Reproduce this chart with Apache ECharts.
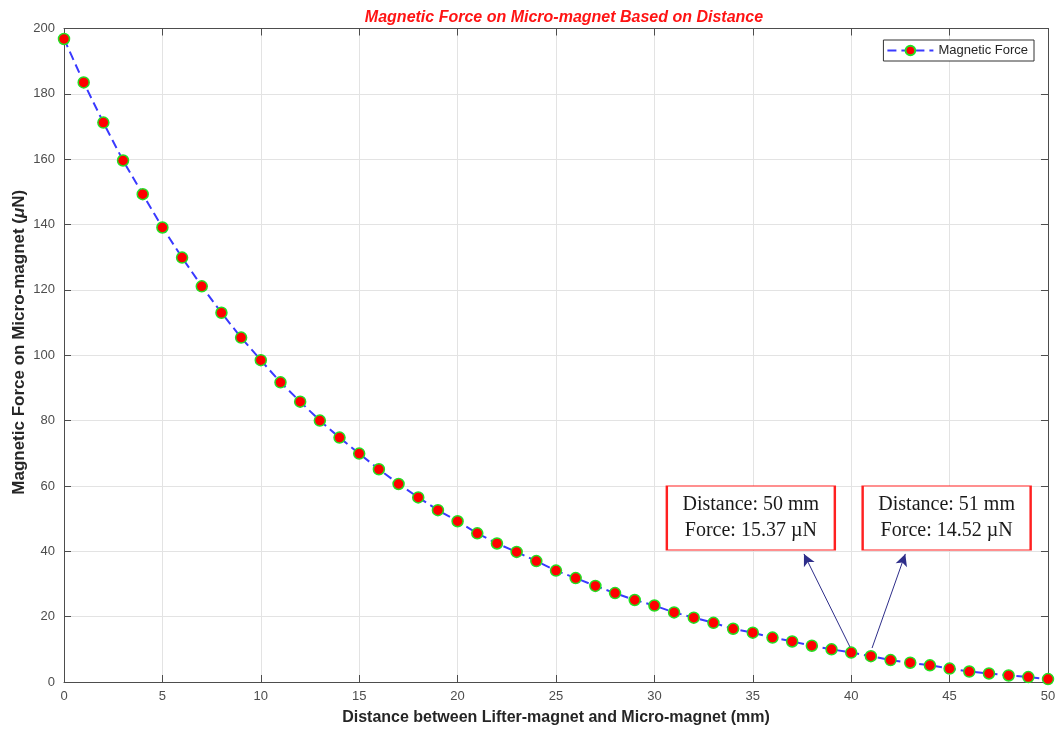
<!DOCTYPE html>
<html>
<head>
<meta charset="utf-8">
<title>Magnetic Force on Micro-magnet Based on Distance</title>
<script src="https://cdn.jsdelivr.net/npm/echarts@6/dist/echarts.min.js"></script>
<style>
  html, body { margin: 0; padding: 0; background: #ffffff; }
  #chart { width: 1056px; height: 731px; }
</style>
</head>
<body>
<div id="chart"></div>
<script>
// Distance between lifter-magnet and micro-magnet (mm)
const distances = [0, 1, 2, 3, 4, 5, 6, 7, 8, 9, 10, 11, 12, 13, 14, 15, 16, 17, 18, 19, 20,
  21, 22, 23, 24, 25, 26, 27, 28, 29, 30, 31, 32, 33, 34, 35, 36, 37, 38, 39, 40,
  41, 42, 43, 44, 45, 46, 47, 48, 49, 50];

// Magnetic force on the micro-magnet (µN)
const forces = [196.8, 183.5, 171.2, 159.6, 149.3, 139.1, 129.9, 121.1, 113.0, 105.4, 98.5,
  91.7, 85.8, 80.0, 74.8, 69.9, 65.1, 60.6, 56.5, 52.6, 49.2,
  45.5, 42.4, 39.8, 37.0, 34.1, 31.8, 29.4, 27.2, 25.1, 23.4,
  21.3, 19.7, 18.1, 16.3, 15.1, 13.6, 12.4, 11.1, 10.0, 9.0,
  7.9, 6.7, 5.9, 5.1, 4.1, 3.2, 2.6, 2.0, 1.5, 0.9];

const xTicks = [0, 5, 10, 15, 20, 25, 30, 35, 40, 45, 50];
const yTicks = [0, 20, 40, 60, 80, 100, 120, 140, 160, 180, 200];

// Callout boxes: [centre distance, centre force] and their text
const calloutCentres = [[34.9, 50.2], [44.85, 50.2]];
const calloutTexts = [
  'Distance: 50 mm\nForce: 15.37 \u00b5N',
  'Distance: 51 mm\nForce: 14.52 \u00b5N'
];
// Arrows from the curve up to each callout: [tail, head]
const calloutArrows = [
  [[39.94, 10.7], [37.6, 39.2]],
  [[41.06, 10.4], [42.75, 39.2]]
];

const chart = echarts.init(document.getElementById('chart'), null, { renderer: 'canvas' });

const sans = 'Liberation Sans, Arial, Helvetica, sans-serif';
const serif = 'Liberation Serif, Times New Roman, serif';
const axisColor = '#4d4d4d';
const gridColor = '#e3e3e3';

const seriesData = distances.map((d, i) => [d, forces[i]]);

// Plain top/right axes that close the box and carry inward ticks
function frameAxis(base) {
  return Object.assign({
    type: 'value',
    axisLine: { show: true, onZero: false, lineStyle: { color: axisColor, width: 1 } },
    axisTick: { show: true, inside: true, length: 7, lineStyle: { color: axisColor } },
    axisLabel: { show: false },
    splitLine: { show: false }
  }, base);
}

const option = {
  animation: false,
  backgroundColor: '#ffffff',
  title: {
    text: 'Magnetic Force on Micro-magnet Based on Distance',
    left: 559,
    top: 5,
    textAlign: 'center',
    textStyle: {
      color: '#ff1414',
      fontFamily: sans,
      fontSize: 16,
      fontWeight: 'bold',
      fontStyle: 'italic'
    }
  },
  legend: {
    data: ['Magnetic Force'],
    right: 22,
    top: 40,
    orient: 'horizontal',
    itemWidth: 46,
    itemHeight: 12,
    itemGap: 4,
    padding: [4, 6, 4, 3],
    borderColor: '#333333',
    borderWidth: 1,
    backgroundColor: '#ffffff',
    textStyle: { color: '#262626', fontFamily: sans, fontSize: 13 }
  },
  grid: {
    left: 64, right: 8, top: 28.5, bottom: 49,
    containLabel: false,
    outerBoundsMode: 'none'
  },
  xAxis: [
    {
      type: 'value',
      min: xTicks[0],
      max: xTicks[xTicks.length - 1],
      interval: xTicks[1] - xTicks[0],
      name: 'Distance between Lifter-magnet and Micro-magnet (mm)',
      nameLocation: 'middle',
      nameGap: 28,
      nameTextStyle: { color: '#262626', fontFamily: sans, fontSize: 16, fontWeight: 'bold' },
      axisLine: { show: true, onZero: false, lineStyle: { color: axisColor, width: 1 } },
      axisTick: { show: true, inside: true, length: 7, lineStyle: { color: axisColor } },
      axisLabel: { color: '#4d4d4d', fontFamily: sans, fontSize: 13, margin: 8 },
      splitLine: { show: true, lineStyle: { color: gridColor, width: 1 } }
    },
    frameAxis({
      position: 'top',
      min: xTicks[0],
      max: xTicks[xTicks.length - 1],
      interval: xTicks[1] - xTicks[0]
    })
  ],
  yAxis: [
    {
      type: 'value',
      min: yTicks[0],
      max: yTicks[yTicks.length - 1],
      interval: yTicks[1] - yTicks[0],
      name: '{a|Magnetic Force on Micro-magnet (}{b|\u03bc}{a|N)}',
      nameLocation: 'middle',
      nameGap: 36,
      nameMoveOverlap: false,
      nameTextStyle: {
        padding: [0, 0, 0, 26],
        rich: {
          a: { color: '#262626', fontFamily: sans, fontSize: 17, fontWeight: 'bold' },
          b: { color: '#262626', fontFamily: sans, fontSize: 17, fontWeight: 'bold', fontStyle: 'italic' }
        }
      },
      axisLine: { show: true, onZero: false, lineStyle: { color: axisColor, width: 1 } },
      axisTick: { show: true, inside: true, length: 7, lineStyle: { color: axisColor } },
      axisLabel: { color: '#4d4d4d', fontFamily: sans, fontSize: 13, margin: 9 },
      splitLine: { show: true, lineStyle: { color: gridColor, width: 1 } }
    },
    frameAxis({
      position: 'right',
      min: yTicks[0],
      max: yTicks[yTicks.length - 1],
      interval: yTicks[1] - yTicks[0]
    })
  ],
  series: [
    {
      name: 'Magnetic Force',
      type: 'line',
      xAxisIndex: 0,
      yAxisIndex: 0,
      data: seriesData,
      symbol: 'circle',
      symbolSize: 11,
      showAllSymbol: true,
      lineStyle: { color: '#3a3aff', width: 2, type: [9, 5] },
      itemStyle: { color: '#ff0000', borderColor: '#22e022', borderWidth: 1.5 },
      emphasis: { disabled: true },
      z: 3,
      markLine: {
        silent: true,
        symbol: ['none', 'arrow'],
        symbolSize: [9, 12],
        label: { show: false },
        lineStyle: { color: '#2e2e8a', width: 1, type: 'solid' },
        emphasis: { disabled: true },
        data: calloutArrows.map(a => [{ coord: a[0] }, { coord: a[1] }])
      },
      markPoint: {
        silent: true,
        symbol: 'rect',
        symbolSize: [168, 64],
        itemStyle: { color: '#ffffff', borderColor: '#ff2020', borderWidth: 1.5 },
        label: {
          show: true,
          position: 'inside',
          color: '#1a1a1a',
          fontFamily: serif,
          fontSize: 20,
          lineHeight: 26,
          align: 'center'
        },
        emphasis: { disabled: true },
        data: calloutCentres.map((c, i) => ({
          coord: c,
          value: calloutTexts[i],
          label: { formatter: calloutTexts[i] }
        }))
      }
    }
  ]
};

chart.setOption(option);
</script>
</body>
</html>
